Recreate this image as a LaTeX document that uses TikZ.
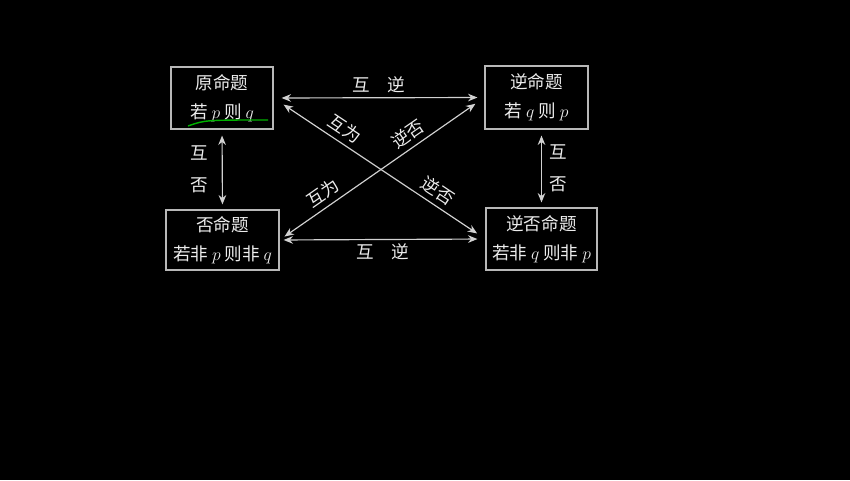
\documentclass[tikz,border=0pt]{standalone}
\usepackage{fix-cm}
\usepackage{fontspec}
\usepackage{amsmath}
\usetikzlibrary{arrows.meta}
\newfontfamily\cjk{Noto Sans CJK SC}
\definecolor{boxgray}{gray}{0.72}
\definecolor{linegray}{gray}{0.82}
\definecolor{textgray}{gray}{0.93}

\begin{document}
\begin{tikzpicture}[x=0.03cm, y=0.03cm]
    \tikzstyle{every node}+=[inner sep=0pt, text=textgray, font=\cjk\fontsize{15}{18}\selectfont]
    \tikzstyle{propbox}=[draw=boxgray, line width=1pt, align=center]
    \tikzstyle{relarrow}=[draw=linegray, line width=1pt, {Stealth[length=8pt,width=6.5pt]}-{Stealth[length=8pt,width=6.5pt]}]
    \tikzstyle{difflabel}=[sloped, above=4.5pt]
    \fill [black] (0,0) rectangle (850,-480);
    % the four propositions
    \node [propbox, minimum width=3.06cm, minimum height=1.86cm] (yuan) at (222,-98) {原命题\\[7pt]若 $p$ 则 $q$};
    \node [propbox, minimum width=3.09cm, minimum height=1.89cm] (ni) at (536.5,-97.5) {逆命题\\[7pt]若 $q$ 则 $p$};
    \node [propbox, minimum width=3.39cm, minimum height=1.80cm] (fou) at (222.5,-240) {否命题\\[7pt]若非 $p$ 则非 $q$};
    \node [propbox, minimum width=3.33cm, minimum height=1.86cm] (nifou) at (541.5,-239) {逆否命题\\[7pt]若非 $q$ 则非 $p$};
    % green pen mark
    \draw [green!70!black, line width=1.2pt] (188,-126) .. controls (205,-120) .. (268,-120);
    % horizontal pairs
    \draw [relarrow, shorten <=0.24cm, shorten >=0.21cm] (yuan.east) -- node [above=4pt] (topl) {互\hspace{1em}逆} (ni.west);
    \draw [relarrow, shorten <=0.12cm, shorten >=0.24cm] (fou.east) -- node [below=3pt] (botl) {互\hspace{1em}逆} (nifou.west);
    % vertical pairs
    \draw [relarrow, shorten <=0.18cm, shorten >=0.15cm] (yuan.south) -- node [left=12pt, align=center] (leftl) {互\\[9pt]否} (fou.north);
    \draw [relarrow, shorten <=0.18cm, shorten >=0.15cm] (nifou.north |- ni.south) -- node [right=6pt, align=center] (rightl) {互\\[9pt]否} (nifou.north);
    % diagonals
    \draw [relarrow, shorten <=0.36cm, shorten >=0.30cm] (yuan.east) -- node [difflabel, pos=0.30] (diaga) {互为} node [difflabel, pos=0.74] (diagb) {逆否} (nifou.west);
    \draw [relarrow, shorten <=0.18cm, shorten >=0.33cm] (fou.east) -- node [difflabel, pos=0.25] (diagc) {互为} node [difflabel, pos=0.665] (diagd) {逆否} (ni.west);
\end{tikzpicture}
\end{document}
